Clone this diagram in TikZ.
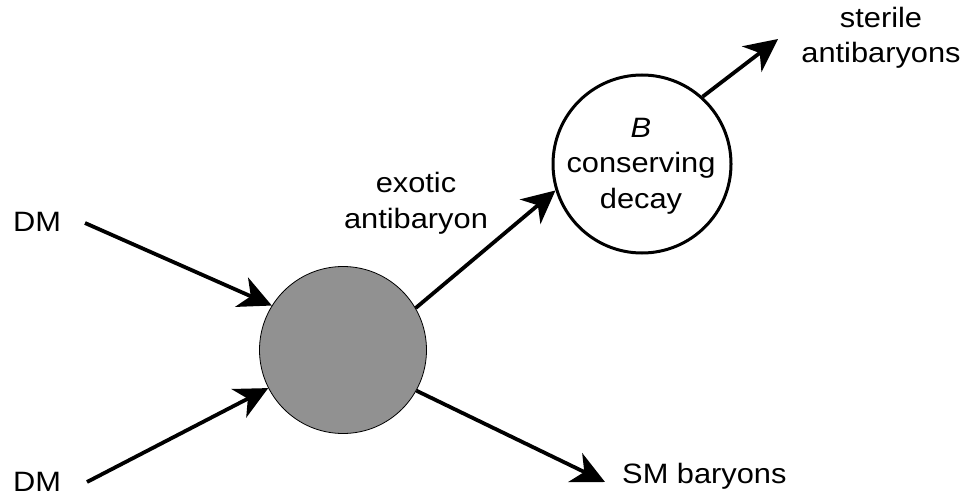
\documentclass[tikz,border=0pt]{standalone}
\usepackage{fontspec}
\setmainfont{Liberation Sans}[FakeStretch=1.1]
\usetikzlibrary{arrows.meta}
\begin{document}
\begin{tikzpicture}[x=1pt,y=-1pt,
  lbl/.style={align=center,font=\fontsize{28}{35.5}\selectfont,inner sep=0pt,anchor=base},
  flow/.style={line width=3.8pt,-{Stealth[length=33pt,width=32pt,inset=10pt]}},
  blob/.style={circle,draw=black,line width=0.8pt,fill=black!43,minimum size=167pt,inner sep=0pt},
  decaybox/.style={circle,draw=black,line width=3pt,fill=white,minimum size=178pt,inner sep=0pt}]
\useasboundingbox (0,0) rectangle (965,497);

% vertices (base anchor of a multi-line label = baseline of its last line)
\node[blob] (g) at (343,350) {};
\node[decaybox] (w) at (642,164) {};
\node[lbl] (wt) at (641,208) {\textit{B}\\conserving\\decay};

% labels
\node[lbl] (dm1) at (37,231) {DM};
\node[lbl] (dm2) at (37,491) {DM};
\node[lbl] (ex) at (416,228) {exotic\\antibaryon};
\node[lbl] (st) at (881,63) {sterile\\antibaryons};
\node[lbl,anchor=base west] (sm) at (622,483) {SM baryons};

% free ends of the arrows
\coordinate (a1) at (85,223);
\coordinate (a2) at (87,482);
\coordinate (a3) at (778,39);
\coordinate (a4) at (605,482);

\draw[flow] (a1) -- (g.148);
\draw[flow] (a2) -- (g.207);
\draw[flow] (g.30) -- (w.197);
\draw[flow] (w.48) -- (a3);
\draw[flow] (g.-29) -- (a4);
\end{tikzpicture}
\end{document}
